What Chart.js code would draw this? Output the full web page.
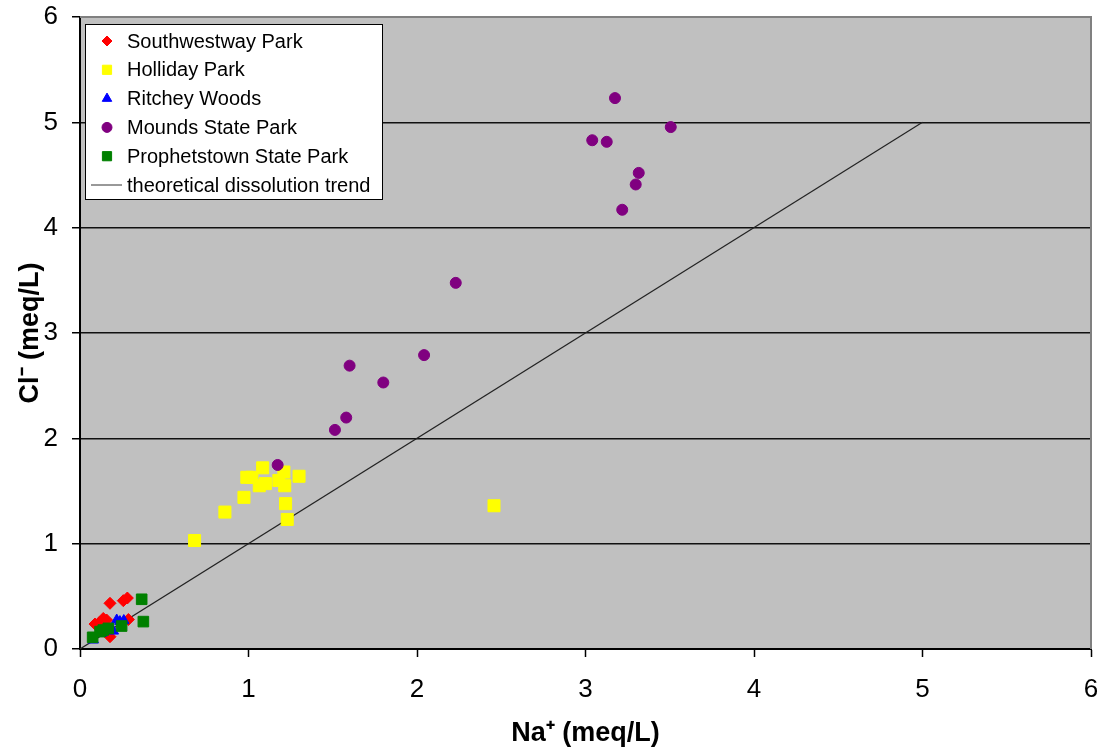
<!DOCTYPE html>
<html>
<head>
<meta charset="utf-8">
<script src="https://cdn.jsdelivr.net/npm/chart.js@4.4.0/dist/chart.umd.min.js"></script>
<style>
html, body { margin: 0; padding: 0; background: #fff; }
</style>
</head>
<body>
<canvas id="chart" width="1107" height="752"></canvas>
<script>
var seriesNames = ['Southwestway Park', 'Holliday Park', 'Ritchey Woods', 'Mounds State Park', 'Prophetstown State Park', 'theoretical dissolution trend'];

var southwestwayNa = [0.178, 0.257, 0.281, 0.138, 0.089, 0.178, 0.287, 0.158, 0.115];
var southwestwayCl = [0.434, 0.459, 0.484, 0.290, 0.237, 0.117, 0.280, 0.275, 0.250];

var hollidayNa = [1.084, 0.99, 1.02, 1.064, 1.10, 1.21, 1.18, 1.215, 1.30, 0.973, 1.22, 1.23, 0.86, 0.68, 2.457];
var hollidayCl = [1.72, 1.63, 1.63, 1.55, 1.57, 1.68, 1.60, 1.55, 1.64, 1.44, 1.38, 1.23, 1.30, 1.03, 1.36];

var ritcheyNa = [0.218, 0.237, 0.198, 0.079, 0.128, 0.260];
var ritcheyCl = [0.275, 0.260, 0.170, 0.085, 0.150, 0.270];

var moundsNa = [3.175, 3.506, 3.04, 3.126, 3.316, 3.298, 3.218, 2.23, 2.042, 1.60, 1.80, 1.58, 1.513, 1.173];
var moundsCl = [5.23, 4.955, 4.83, 4.815, 4.52, 4.41, 4.17, 3.476, 2.79, 2.69, 2.53, 2.197, 2.08, 1.747];

var prophetstownNa = [0.366, 0.376, 0.075, 0.119, 0.168, 0.247, 0.138];
var prophetstownCl = [0.472, 0.260, 0.111, 0.165, 0.196, 0.218, 0.180];

var trendNa = [0, 5];
var trendCl = [0, 5];

var xTicks = [0, 1, 2, 3, 4, 5, 6];
var yTicks = [0, 1, 2, 3, 4, 5, 6];

var toPoints = function (xs, ys) {
    return xs.map(function (x, i) { return { x: x, y: ys[i] }; });
};

var fontFamily = '"Liberation Sans", Arial, Helvetica, sans-serif';

var plotBackground = {
    id: 'plotBackground',
    beforeDraw: function (chart) {
        var a = chart.chartArea;
        var ctx = chart.ctx;
        ctx.save();
        ctx.fillStyle = '#c0c0c0';
        ctx.fillRect(a.left, a.top, a.right - a.left, a.bottom - a.top);
        ctx.restore();
    },
    afterDraw: function (chart) {
        var a = chart.chartArea;
        var ctx = chart.ctx;
        ctx.save();
        ctx.strokeStyle = '#808080';
        ctx.lineWidth = 2;
        ctx.beginPath();
        ctx.moveTo(a.left, a.top);
        ctx.lineTo(a.right, a.top);
        ctx.lineTo(a.right, a.bottom);
        ctx.stroke();
        ctx.restore();
    }
};

var boxLegend = {
    id: 'boxLegend',
    afterDraw: function (chart) {
        var ctx = chart.ctx;
        ctx.save();
        ctx.fillStyle = '#fff';
        ctx.fillRect(85.5, 24.5, 297, 175);
        ctx.strokeStyle = '#000';
        ctx.lineWidth = 1;
        ctx.strokeRect(85.5, 24.5, 297, 175);
        ctx.font = '20px ' + fontFamily;
        ctx.textBaseline = 'middle';
        chart.data.datasets.forEach(function (ds, i) {
            var y = 41 + i * 28.8;
            if (ds.showLine) {
                ctx.strokeStyle = '#333';
                ctx.lineWidth = 1;
                ctx.beginPath();
                ctx.moveTo(91, y);
                ctx.lineTo(122, y);
                ctx.stroke();
            } else {
                ctx.fillStyle = ds.backgroundColor;
                ctx.strokeStyle = ds.borderColor;
                Chart.helpers.drawPoint(ctx, { pointStyle: ds.pointStyle, radius: ds.legendRadius, borderWidth: 1 }, 107, y);
            }
            ctx.fillStyle = '#000';
            ctx.fillText(ds.label, 127, y + 1);
        });
        ctx.restore();
    }
};

var ctx = document.getElementById('chart').getContext('2d');
var myChart = new Chart(ctx, {
    type: 'scatter',
    data: {
        datasets: [{
            label: seriesNames[0],
            data: toPoints(southwestwayNa, southwestwayCl),
            pointStyle: 'rectRot',
            pointRadius: 6,
            legendRadius: 5,
            backgroundColor: '#ff0000',
            borderColor: '#ff0000',
            borderWidth: 1,
            order: 5
        }, {
            label: seriesNames[1],
            data: toPoints(hollidayNa, hollidayCl),
            pointStyle: 'rect',
            pointRadius: 8.5,
            legendRadius: 6.5,
            backgroundColor: '#ffff00',
            borderColor: '#ffff00',
            borderWidth: 1,
            order: 4
        }, {
            label: seriesNames[2],
            data: toPoints(ritcheyNa, ritcheyCl),
            pointStyle: 'triangle',
            pointRadius: 6,
            legendRadius: 5.5,
            backgroundColor: '#0000ff',
            borderColor: '#0000ff',
            borderWidth: 1,
            order: 3
        }, {
            label: seriesNames[3],
            data: toPoints(moundsNa, moundsCl),
            pointStyle: 'circle',
            pointRadius: 5.5,
            legendRadius: 5,
            backgroundColor: '#800080',
            borderColor: '#800080',
            borderWidth: 1,
            order: 2
        }, {
            label: seriesNames[4],
            data: toPoints(prophetstownNa, prophetstownCl),
            pointStyle: 'rect',
            pointRadius: 7.5,
            legendRadius: 6.5,
            backgroundColor: '#008000',
            borderColor: '#008000',
            borderWidth: 1,
            order: 1
        }, {
            label: seriesNames[5],
            data: toPoints(trendNa, trendCl),
            showLine: true,
            pointRadius: 0,
            borderColor: '#222222',
            borderWidth: 1.2,
            backgroundColor: '#222222',
            order: 6
        }]
    },
    options: {
        responsive: false,
        devicePixelRatio: 1,
        animation: false,
        layout: {
            padding: { left: 0, right: 16, top: 17, bottom: 0 }
        },
        plugins: {
            legend: { display: false },
            tooltip: { enabled: false }
        },
        scales: {
            x: {
                type: 'linear',
                min: 0,
                max: 6,
                afterBuildTicks: function (scale) {
                    scale.ticks = xTicks.map(function (v) { return { value: v }; });
                },
                afterFit: function (scale) {
                    scale.height = 103;
                    scale.paddingLeft = 0;
                    scale.paddingRight = 0;
                },
                ticks: {
                    color: '#000',
                    padding: 17,
                    font: { size: 26, family: fontFamily }
                },
                grid: {
                    drawOnChartArea: false,
                    tickLength: 8,
                    tickColor: '#000',
                    tickWidth: 1.5
                },
                border: { color: '#000', width: 2 },
                title: {
                    display: true,
                    text: 'Na\u207A (meq/L)',
                    color: '#000',
                    padding: { top: 0, bottom: 2 },
                    font: { size: 27, weight: 'bold', family: fontFamily }
                }
            },
            y: {
                type: 'linear',
                min: 0,
                max: 6,
                afterBuildTicks: function (scale) {
                    scale.ticks = yTicks.map(function (v) { return { value: v }; });
                },
                afterFit: function (scale) {
                    scale.width = 80;
                    scale.paddingTop = 0;
                    scale.paddingBottom = 0;
                },
                ticks: {
                    color: '#000',
                    padding: 14,
                    font: { size: 26, family: fontFamily }
                },
                grid: {
                    tickLength: 8,
                    tickColor: '#000',
                    tickWidth: 1.5,
                    lineWidth: 1.5,
                    color: function (c) {
                        return (c.tick && (c.tick.value === 0 || c.tick.value === 6)) ? 'rgba(0,0,0,0)' : '#111';
                    }
                },
                border: { color: '#000', width: 2 },
                title: {
                    display: true,
                    text: 'Cl\u207B (meq/L)',
                    color: '#000',
                    padding: { top: 14, bottom: 0 },
                    font: { size: 27, weight: 'bold', family: fontFamily }
                }
            }
        }
    },
    plugins: [plotBackground, boxLegend]
});
</script>
</body>
</html>
